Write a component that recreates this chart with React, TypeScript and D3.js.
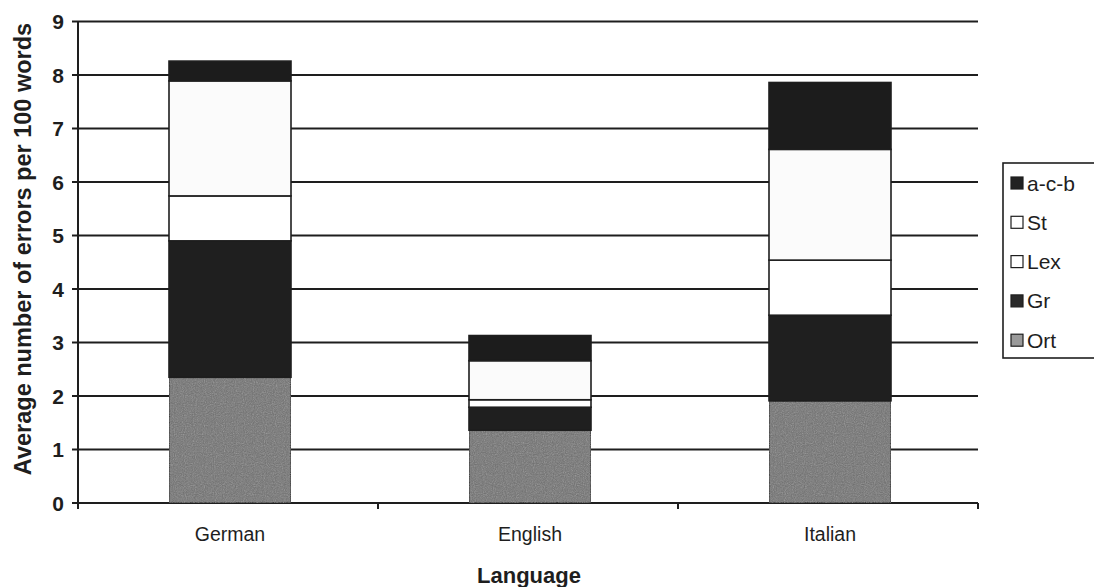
import React from "react";
import * as d3 from "d3";

const languages = ["German", "English", "Italian"];
const seriesNames = ["Ort", "Gr", "Lex", "St", "a-c-b"];
const ortValues = [2.35, 1.36, 1.91];
const grValues = [2.55, 0.43, 1.6];
const lexValues = [0.84, 0.14, 1.03];
const stValues = [2.15, 0.73, 2.07];
const acbValues = [0.37, 0.47, 1.25];
const yTicks = [0, 1, 2, 3, 4, 5, 6, 7, 8, 9];
const legendOrder = ["a-c-b", "St", "Lex", "Gr", "Ort"];

const colors: Record<string, string> = {
  Ort: "#707070",
  Gr: "#1f1f1f",
  Lex: "#ffffff",
  St: "#fbfbfb",
  "a-c-b": "#1c1c1c",
};
const legendColors: Record<string, string> = {
  Ort: "#9a9a9a",
  Gr: "#2a2a2a",
  Lex: "#ffffff",
  St: "#ffffff",
  "a-c-b": "#222222",
};

const W = 1094;
const H = 587;
const left = 78;
const right = 978;
const top = 21.5;
const bottom = 503;
const font = "'Liberation Sans', Arial, sans-serif";
const ink = "#1e1e1e";

export default function App() {
  const rows = languages.map((lang, i) => ({
    lang,
    Ort: ortValues[i],
    Gr: grValues[i],
    Lex: lexValues[i],
    St: stValues[i],
    "a-c-b": acbValues[i],
  }));
  const stack = d3.stack<any>().keys(seriesNames)(rows);
  const x = d3.scaleBand().domain(languages).range([left, right]).paddingInner(0).paddingOuter(0);
  const y = d3.scaleLinear().domain([0, 9]).range([bottom, top]);
  const barW = 122;

  return (
    <svg width={W} height={H} style={{ position: "absolute", left: 0, top: 0, background: "#fff" }}>
      <defs>
        <filter id="grain" x="0" y="0" width="100%" height="100%">
          <feTurbulence type="fractalNoise" baseFrequency="0.9" numOctaves="2" seed="3" result="n" />
          <feColorMatrix type="saturate" values="0" in="n" result="g" />
          <feComponentTransfer in="g" result="g2">
            <feFuncA type="linear" slope="0.35" />
          </feComponentTransfer>
          <feComposite in="g2" in2="SourceGraphic" operator="in" result="c" />
          <feMerge>
            <feMergeNode in="SourceGraphic" />
            <feMergeNode in="c" />
          </feMerge>
        </filter>
      </defs>
      {yTicks.map((t) => (
        <line key={"g" + t} x1={left} x2={right} y1={y(t)} y2={y(t)} stroke={ink} strokeWidth={2} />
      ))}
      <line x1={left} x2={left} y1={top} y2={bottom} stroke={ink} strokeWidth={2} />
      {yTicks.map((t) => (
        <g key={"t" + t}>
          <line x1={left - 6} x2={left} y1={y(t)} y2={y(t)} stroke={ink} strokeWidth={2} />
          <text x={64} y={y(t)} dy="0.36em" textAnchor="end" fontFamily={font} fontSize={21} fontWeight="bold" fill={ink}>
            {t}
          </text>
        </g>
      ))}
      {[...languages.map((l) => x(l)!), right].map((v, i) => (
        <line key={"xt" + i} x1={v} x2={v} y1={bottom} y2={bottom + 6} stroke={ink} strokeWidth={2} />
      ))}
      {stack.map((s) => (
        <g key={s.key}>
          {s.map((d, i) => {
            const cx = x(languages[i])! + x.bandwidth() / 2 + 2;
            const isGray = s.key === "Ort";
            return (
              <rect
                key={s.key + i}
                x={cx - barW / 2}
                y={y(d[1])}
                width={barW}
                height={y(d[0]) - y(d[1])}
                fill={colors[s.key]}
                stroke={ink}
                strokeWidth={1.6}
                filter={isGray ? "url(#grain)" : undefined}
              />
            );
          })}
        </g>
      ))}
      {languages.map((l) => (
        <text key={"c" + l} x={x(l)! + x.bandwidth() / 2 + 2} y={541} textAnchor="middle" fontFamily={font} fontSize={19.5} fill={ink}>
          {l}
        </text>
      ))}
      <text x={529} y={583} textAnchor="middle" fontFamily={font} fontSize={22} fontWeight="bold" fill={ink}>
        Language
      </text>
      <text
        transform={`translate(31, 249) rotate(-90)`}
        textAnchor="middle"
        fontFamily={font}
        fontSize={23.5}
        fontWeight="bold"
        fill={ink}
      >
        Average number of errors per 100 words
      </text>
      <rect x={1003} y={163} width={94} height={195} fill="#fff" stroke={ink} strokeWidth={1.6} />
      {legendOrder.map((k, i) => {
        const ly = 183 + i * 39.3;
        return (
          <g key={"l" + k}>
            <rect x={1011} y={ly - 6} width={12} height={12} fill={legendColors[k]} stroke={ink} strokeWidth={1.2} />
            <text x={1027} y={ly} dy="0.36em" fontFamily={font} fontSize={21} fill={ink}>
              {k}
            </text>
          </g>
        );
      })}
    </svg>
  );
}
